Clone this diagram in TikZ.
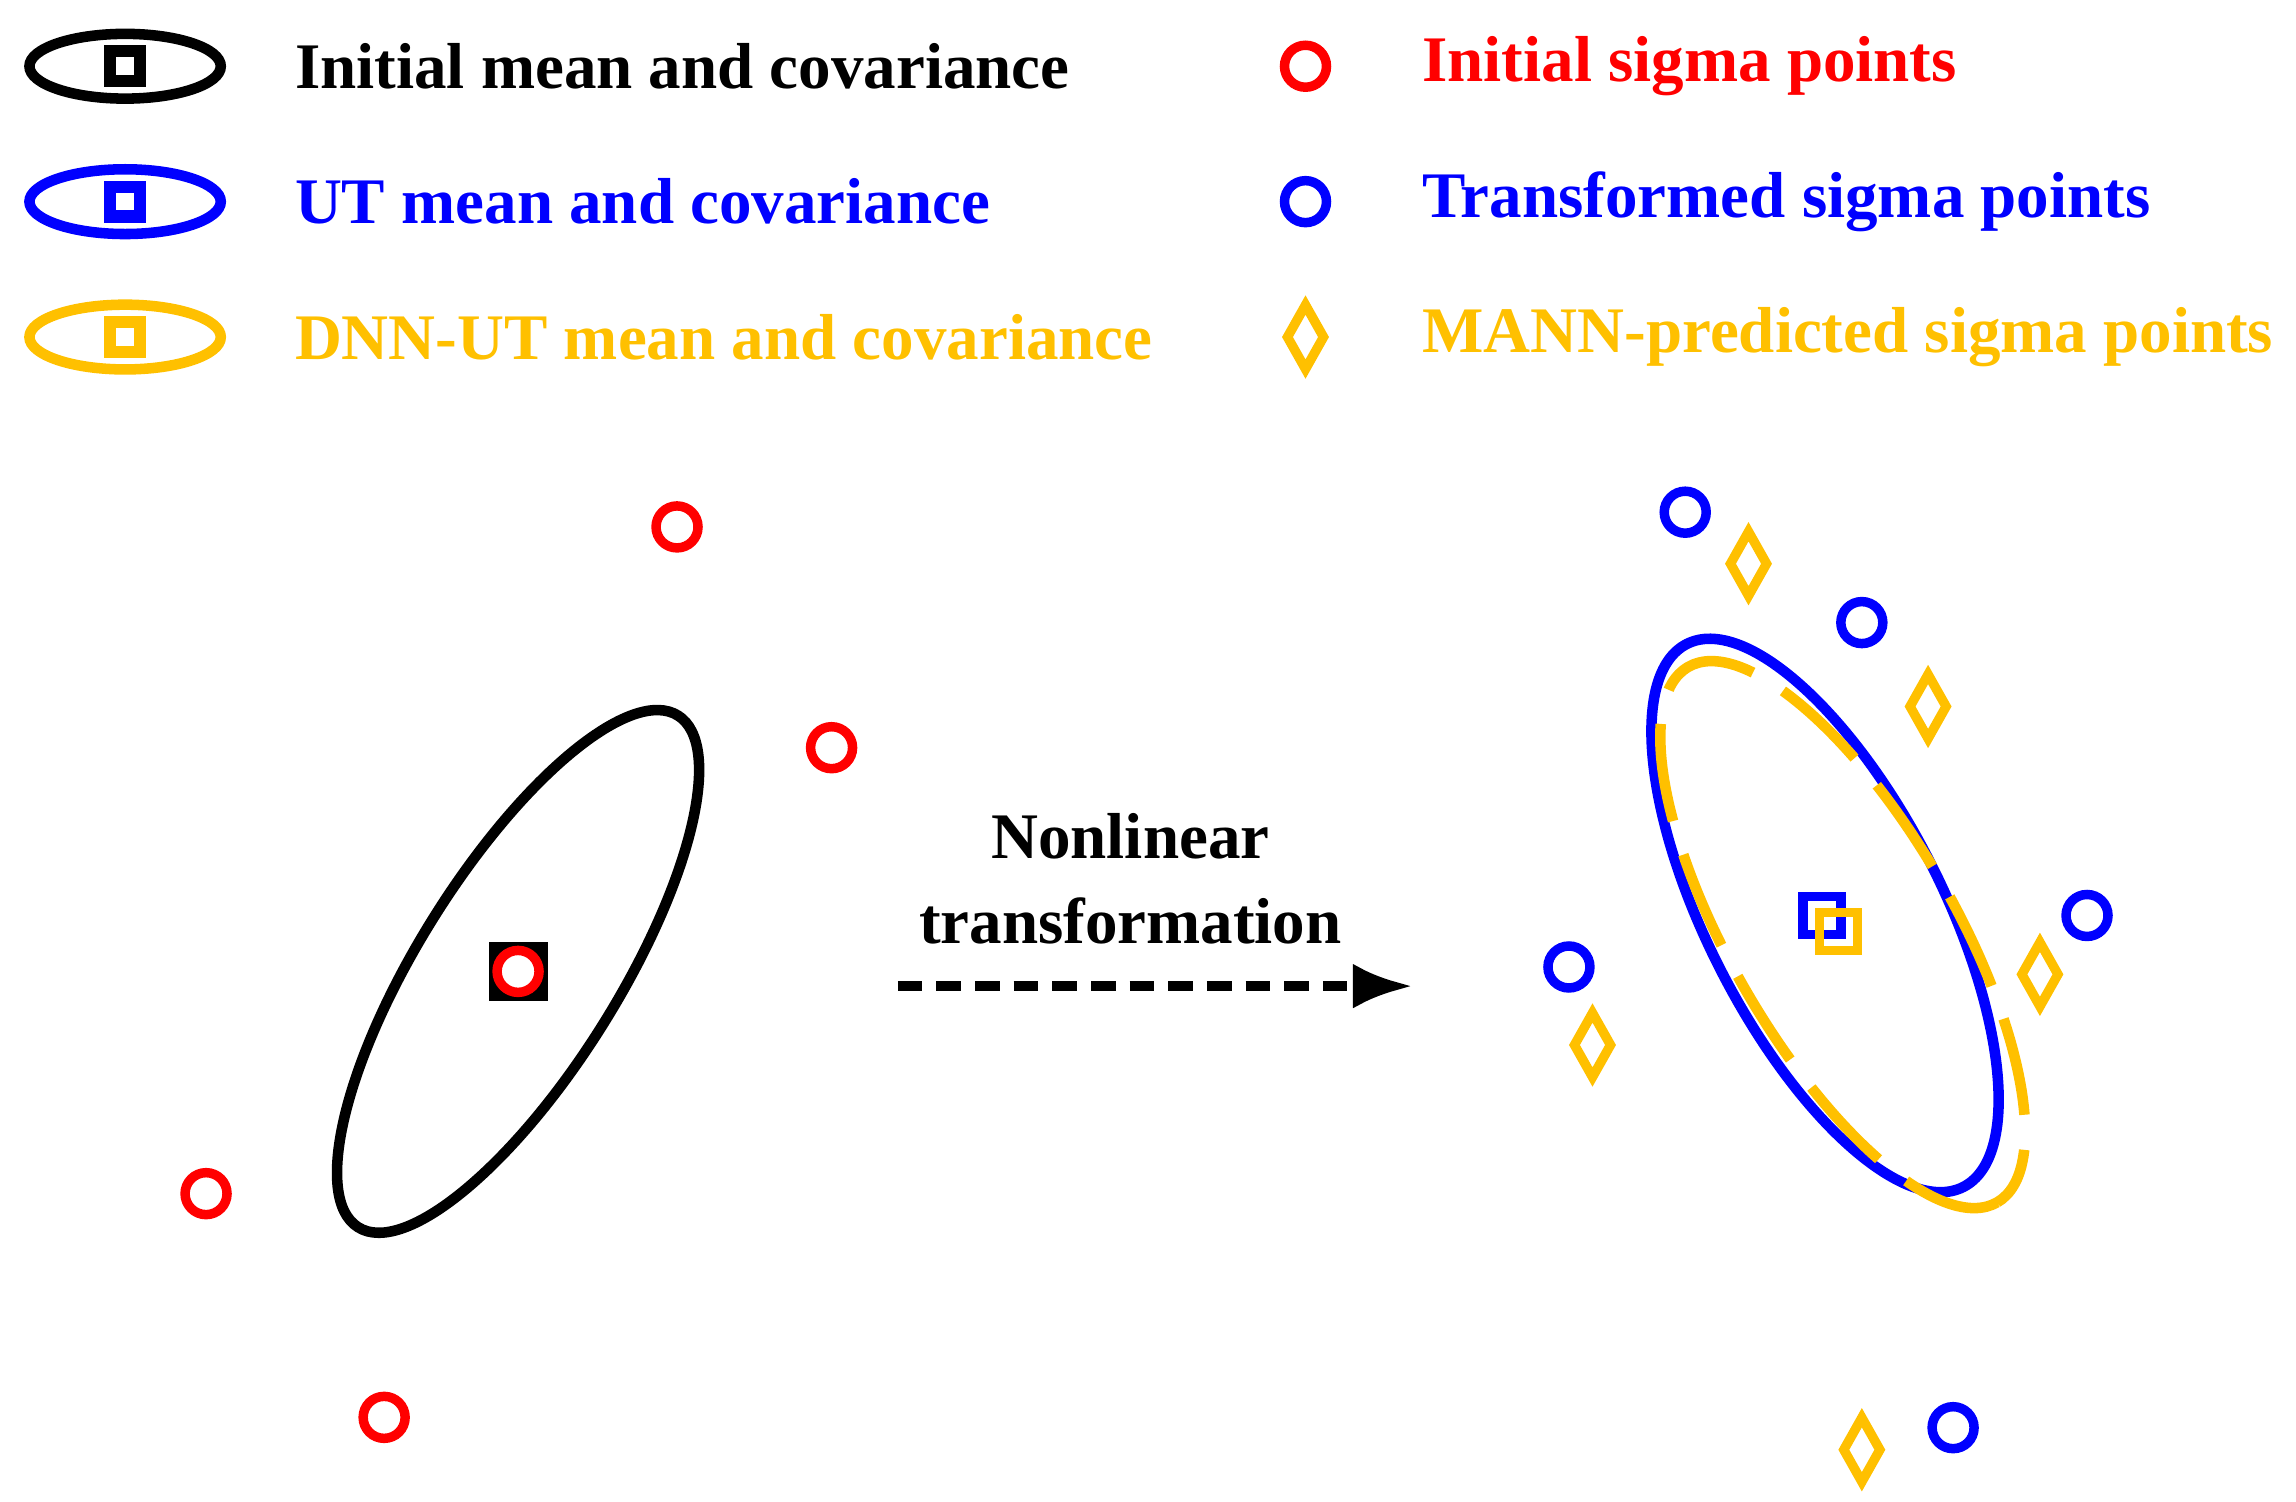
\documentclass[tikz,border=0pt]{standalone}
\usepackage{fontspec}
\setmainfont{Liberation Serif}
\usetikzlibrary{shapes.geometric,arrows.meta,positioning}
\definecolor{sred}{RGB}{255,0,0}
\definecolor{sblue}{RGB}{0,0,255}
\definecolor{sorange}{RGB}{255,192,0}
\begin{document}
\begin{tikzpicture}[
    x=0.01472cm, y=-0.01472cm,
    sigma/.style={circle, draw=#1, fill=white, line width=2.7pt, minimum size=0.42cm, inner sep=0pt},
    pred/.style={diamond, draw=sorange, line width=2.7pt, minimum width=0.4cm, minimum height=0.68cm, inner sep=0pt},
    mean/.style={rectangle, draw=#1, line width=2.7pt, minimum size=0.38cm, inner sep=0pt},
    cov/.style={draw=#1, line width=3pt},
    legend/.style={anchor=west, font=\bfseries\fontsize{18.5}{22}\selectfont, text=#1}
]
\useasboundingbox (0,0) rectangle (1560,1020);

% legend
\draw [cov=black] (85,45) ellipse [x radius=65, y radius=22];
\node [rectangle, draw=black, line width=3.5pt, minimum size=0.3cm, inner sep=0pt] (lgm1) at (85,45) {};
\draw [cov=sblue] (85,137) ellipse [x radius=65, y radius=22];
\node [rectangle, draw=sblue, line width=3.5pt, minimum size=0.3cm, inner sep=0pt] (lgm2) at (85,137) {};
\draw [cov=sorange] (85,229) ellipse [x radius=65, y radius=22];
\node [rectangle, draw=sorange, line width=3.5pt, minimum size=0.3cm, inner sep=0pt] (lgm3) at (85,229) {};
\node [legend=black] (lg1) at (192,45) {Initial mean and covariance};
\node [legend=sblue] (lg2) at (192,137) {UT mean and covariance};
\node [legend=sorange] (lg3) at (192,229) {DNN-UT mean and covariance};
\node [sigma=sred] (lgs1) at (887,45) {};
\node [sigma=sblue] (lgs2) at (887,137) {};
\node [pred] (lgs3) at (887,229) {};
\node [legend=sred] (lg4) at (958,45) {Initial sigma points};
\node [legend=sblue] (lg5) at (958,137) {Transformed sigma points};
\node [legend=sorange] (lg6) at (958,229) {MANN-predicted sigma points};

% initial distribution
\draw [cov=black, rotate around={58:(352,660)}] (352,660) ellipse [x radius=205, y radius=68];
\node [rectangle, fill=black, minimum size=0.59cm, inner sep=0pt] (m0) at (352,660) {};
\foreach \px/\py [count=\i] in {460/358, 565/508, 352/660, 140/811, 261/963}
    \node [sigma=sred] (s\i) at (\px,\py) {};

% transformation
\node [font=\bfseries\fontsize{18.5}{24}\selectfont, align=center] (tr) at (768,597) {Nonlinear\\transformation};
\coordinate (a0) at (610,670);
\coordinate (a1) at (960,670);
\draw [line width=3pt, dash pattern=on 7pt off 4pt, -{Latex[length=0.6cm, width=0.45cm]}] (a0) -- (a1);

% transformed distribution
\draw [cov=sblue, rotate around={-63:(1240,622)}] (1240,622) ellipse [x radius=207, y radius=80];
\draw [cov=sorange, dash pattern=on 28pt off 10pt, rotate around={-60:(1252,635)}] (1252,635) ellipse [x radius=210, y radius=76];
\node [mean=sblue] (mu) at (1238,622) {};
\node [mean=sorange] (md) at (1249,633) {};
\foreach \px/\py [count=\i] in {1145/348, 1265/423, 1418/622, 1066/657, 1327/970}
    \node [sigma=sblue] (t\i) at (\px,\py) {};
\foreach \px/\py [count=\i] in {1188/383, 1310/480, 1386/662, 1082/710, 1265/985}
    \node [pred] (p\i) at (\px,\py) {};

\end{tikzpicture}
\end{document}
